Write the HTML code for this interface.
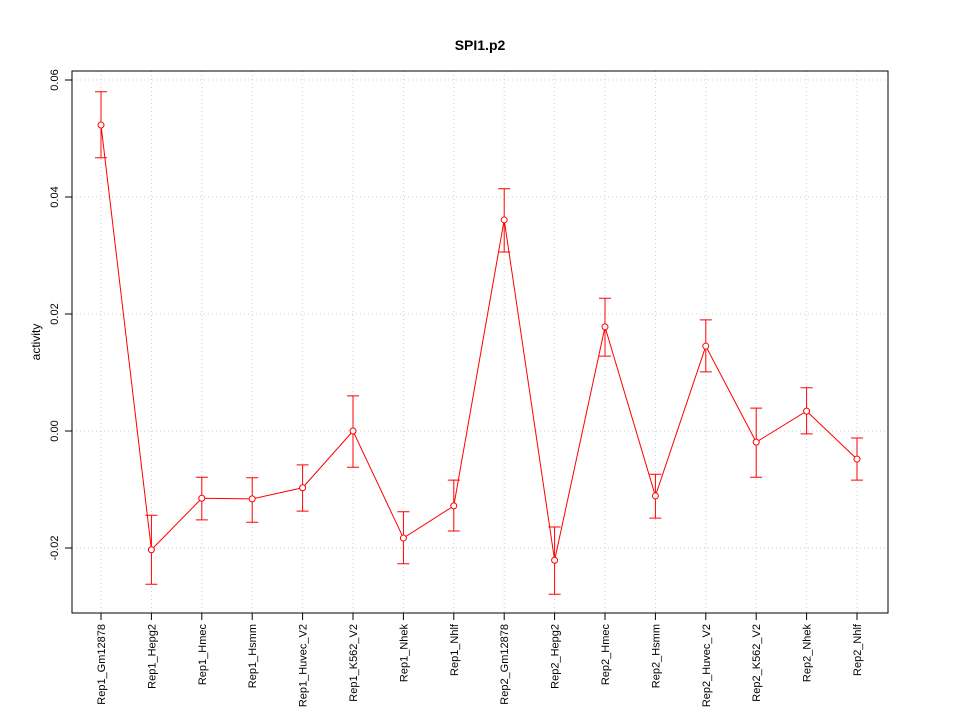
<!DOCTYPE html>
<html><head><meta charset="utf-8"><style>
html,body{margin:0;padding:0;background:#fff;}
svg{display:block;font-family:"Liberation Sans",Arial,sans-serif;}
</style></head><body>
<svg id="chart" width="960" height="720" xmlns="http://www.w3.org/2000/svg">
<text x="480" y="50" text-anchor="middle" font-size="14" font-weight="bold">SPI1.p2</text>
<text transform="translate(40,342) rotate(-90)" text-anchor="middle" font-size="12">activity</text>
<g id="grid"></g><g id="axes"></g><g id="marks"></g>
<rect x="72" y="71" width="816" height="542" fill="none" stroke="#000"/>
</svg>
<script>
const categories=["Rep1_Gm12878","Rep1_Hepg2","Rep1_Hmec","Rep1_Hsmm","Rep1_Huvec_V2","Rep1_K562_V2","Rep1_Nhek","Rep1_Nhlf","Rep2_Gm12878","Rep2_Hepg2","Rep2_Hmec","Rep2_Hsmm","Rep2_Huvec_V2","Rep2_K562_V2","Rep2_Nhek","Rep2_Nhlf"];
const values=[0.0523,-0.0203,-0.0115,-0.0116,-0.0097,0.0,-0.0183,-0.0128,0.0361,-0.0221,0.0178,-0.0111,0.0145,-0.0019,0.0034,-0.0048];
const upper=[0.058,-0.0144,-0.0079,-0.008,-0.0058,0.006,-0.0138,-0.0084,0.0414,-0.0164,0.0227,-0.0074,0.019,0.0039,0.0074,-0.0012];
const lower=[0.0467,-0.0262,-0.0152,-0.0156,-0.0137,-0.0062,-0.0227,-0.0171,0.0306,-0.0279,0.0128,-0.0149,0.0101,-0.0079,-0.0005,-0.0084];
const yTicks=[-0.02,0.0,0.02,0.04,0.06];
const yTickLabels=["-0.02","0.00","0.02","0.04","0.06"];
const NS="http://www.w3.org/2000/svg";
function y(v){return 431-v*5850;}
function x(i){return 101+i*(857-101)/(categories.length-1);}
function mk(p,t,a){const e=document.createElementNS(NS,t);for(const k in a)e.setAttribute(k,a[k]);p.appendChild(e);return e;}
const grid=document.getElementById('grid'),axes=document.getElementById('axes'),marks=document.getElementById('marks');
yTicks.forEach((t,i)=>{
 const g=mk(grid,'line',{x1:72,x2:888,y1:y(t),y2:y(t),stroke:'#ccc','stroke-dasharray':'1,3'});
 
 
 const tk=mk(axes,'line',{x1:65,x2:72,y1:y(t),y2:y(t),stroke:'#000'});
 
 
 const lb=mk(axes,'text',{transform:`translate(58,${y(t)}) rotate(-90)`,'text-anchor':'middle','font-size':11});
 lb.textContent=yTickLabels[i];
 
 
});
mk(axes,'line',{x1:72,x2:72,y1:y(yTicks[0]),y2:y(yTicks[yTicks.length-1]),stroke:'#000'});
categories.forEach((c,i)=>{
 const g=mk(grid,'line',{x1:x(i),x2:x(i),y1:71,y2:613,stroke:'#ccc','stroke-dasharray':'1,3'});
 
 
 const tk=mk(axes,'line',{x1:x(i),x2:x(i),y1:613,y2:620,stroke:'#000'});
 
 
 const lb=mk(axes,'text',{transform:`translate(${x(i)+4},624) rotate(-90)`,'text-anchor':'end','font-size':11});
 lb.textContent=c;
 
 
});
mk(axes,'line',{x1:x(0),x2:x(categories.length-1),y1:613,y2:613,stroke:'#000'});
const line=mk(marks,'polyline',{points:values.map((v,i)=>x(i)+','+y(v)).join(' '),fill:'none',stroke:'#f00'});


values.forEach((v,i)=>{
 const cx=x(i);
 const eb=mk(marks,'path',{d:`M${cx},${y(upper[i])}V${y(lower[i])}M${cx-6},${y(upper[i])}H${cx+6}M${cx-6},${y(lower[i])}H${cx+6}`,stroke:'#f00',fill:'none'});
 
 
 const p=mk(marks,'circle',{cx:cx,cy:y(v),r:3,fill:'#fff',stroke:'#f00'});
 
 
});
</script>
</body></html>
